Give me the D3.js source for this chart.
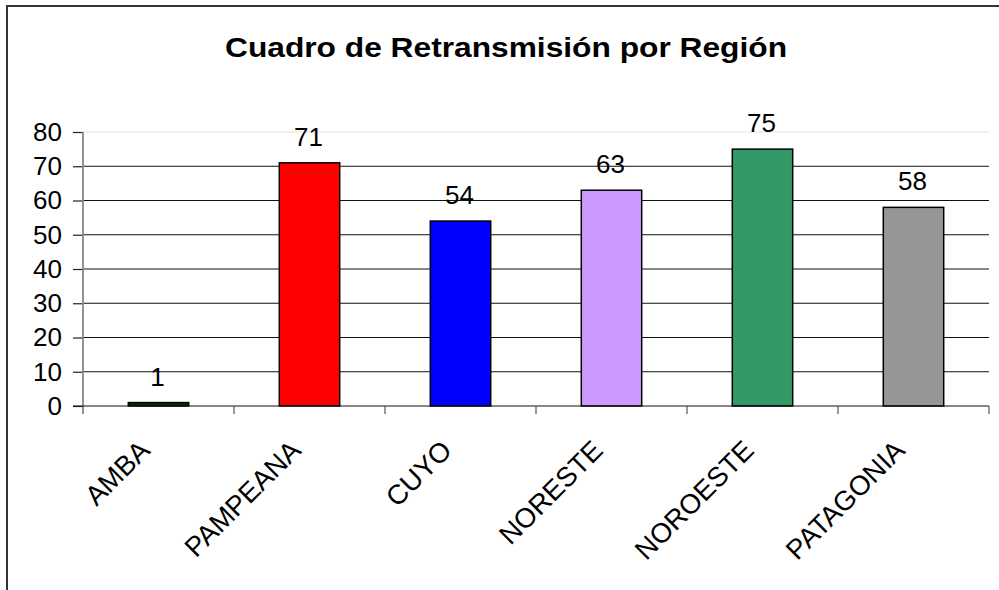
<!DOCTYPE html>
<html>
<head>
<meta charset="utf-8">
<script src="https://cdn.jsdelivr.net/npm/d3@7"></script>
<style>
  body { margin: 0; background: #fff; }
  svg { display: block; font-family: "Liberation Sans", Arial, sans-serif; }
</style>
</head>
<body>
<div id="chart"></div>
<script>
var regions = ['AMBA', 'PAMPEANA', 'CUYO', 'NORESTE', 'NOROESTE', 'PATAGONIA'];
var values = [1, 71, 54, 63, 75, 58];
var colors = ['#003300', '#ff0000', '#0000ff', '#cc99ff', '#339966', '#969696'];
var yTicks = [0, 10, 20, 30, 40, 50, 60, 70, 80];
var title = 'Cuadro de Retransmisión por Región';

var width = 999, height = 590;
var margin = { top: 132, right: 10, bottom: 184, left: 83 };

var svg = d3.select('#chart').append('svg')
  .attr('width', width)
  .attr('height', height);

// outer chart border (right and bottom run off the picture)
svg.append('rect')
  .attr('x', 7).attr('y', 6)
  .attr('width', width + 20).attr('height', height + 20)
  .attr('fill', 'none')
  .attr('stroke', '#333')
  .attr('stroke-width', 2);

svg.append('text')
  .attr('x', 506).attr('y', 57)
  .attr('text-anchor', 'middle')
  .attr('font-size', 28)
  .attr('font-weight', 'bold')
  .attr('textLength', 562)
  .attr('lengthAdjust', 'spacingAndGlyphs')
  .text(title);

var x = d3.scaleBand()
  .domain(regions)
  .range([margin.left, width - margin.right])
  .padding(0);

var y = d3.scaleLinear()
  .domain([0, 80])
  .range([height - margin.bottom, margin.top]);

var g = svg.append('g');

// gridlines
g.selectAll('.grid')
  .data(yTicks.filter(function(d) { return d > 0; }))
  .enter().append('line')
  .attr('x1', margin.left).attr('x2', width - margin.right)
  .attr('y1', function(d) { return y(d); })
  .attr('y2', function(d) { return y(d); })
  .attr('stroke', function(d) { return d === 80 ? '#e4e4e4' : '#111'; })
  .attr('stroke-width', 1.2);

// y axis
var yAxis = g.append('g')
  .attr('transform', 'translate(' + margin.left + ',0)')
  .call(d3.axisLeft(y).tickValues(yTicks).tickSize(10).tickPadding(11));
yAxis.select('.domain').remove();
yAxis.selectAll('.tick line').attr('stroke', '#222').attr('stroke-width', 1.2);
yAxis.selectAll('.tick text')
  .attr('font-size', 26)
  .attr('font-family', '"Liberation Sans", Arial, sans-serif')
  .attr('fill', '#000');
g.append('line')
  .attr('x1', margin.left).attr('x2', margin.left)
  .attr('y1', margin.top).attr('y2', y(0) + 8)
  .attr('stroke', '#888').attr('stroke-width', 1.8);

// bars
var barW = x.bandwidth() * 0.4;
g.selectAll('.bar')
  .data(values)
  .enter().append('rect')
  .attr('x', function(d, i) { return x(regions[i]) + (x.bandwidth() - barW) / 2; })
  .attr('y', function(d) { return y(d); })
  .attr('width', barW)
  .attr('height', function(d) { return y(0) - y(d); })
  .attr('fill', function(d, i) { return colors[i]; })
  .attr('stroke', '#000')
  .attr('stroke-width', 1.5);

// value labels
g.selectAll('.val')
  .data(values)
  .enter().append('text')
  .attr('x', function(d, i) { return x(regions[i]) + x.bandwidth() / 2 - 1; })
  .attr('y', function(d) { return y(d) - 17; })
  .attr('text-anchor', 'middle')
  .attr('font-size', 26)
  .text(function(d) { return d; });

// x axis
g.append('line')
  .attr('x1', margin.left - 10).attr('x2', width - margin.right)
  .attr('y1', y(0)).attr('y2', y(0))
  .attr('stroke', '#111').attr('stroke-width', 1.2);
var bounds = regions.map(function(d) { return x(d); }).concat([x.range()[1]]);
g.selectAll('.xtick')
  .data(bounds.slice(1))
  .enter().append('line')
  .attr('x1', function(d) { return d; }).attr('x2', function(d) { return d; })
  .attr('y1', y(0)).attr('y2', y(0) + 8)
  .attr('stroke', '#555').attr('stroke-width', 1.2);

g.selectAll('.xlab')
  .data(regions)
  .enter().append('text')
  .attr('transform', function(d) {
    return 'translate(' + (x(d) + x.bandwidth() / 2 - 7) + ',452) rotate(-45)';
  })
  .attr('text-anchor', 'end')
  .attr('font-size', 27.5)
  .text(function(d) { return d; });
</script>
</body>
</html>
